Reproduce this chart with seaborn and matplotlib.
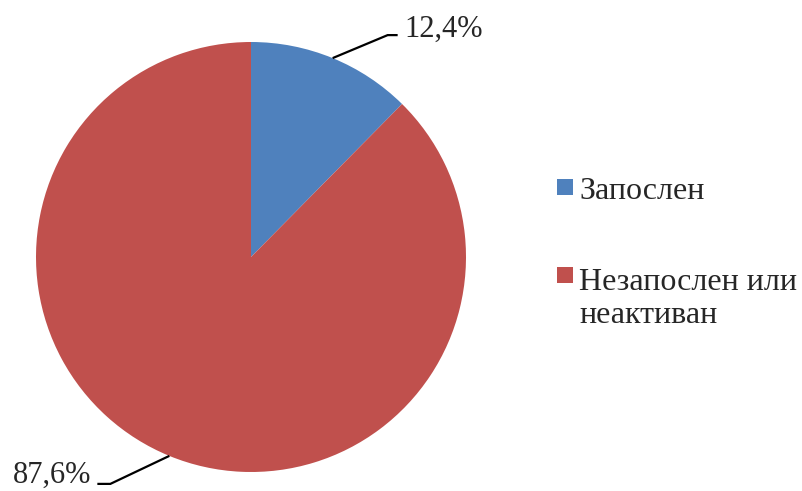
import numpy as np
import matplotlib
matplotlib.use("Agg")
import matplotlib.pyplot as plt
import seaborn as sns
from matplotlib.patches import Rectangle

categories = ["Запослен", "Незапослен или\nнеактиван"]
values = [12.4, 87.6]
value_labels = ["12,4%", "87,6%"]
colors = ["#4F81BD", "#C0504D"]

sns.set_style("white")
plt.rcParams["font.family"] = ["Liberation Serif", "DejaVu Serif"]

W, H = 803, 491
fig = plt.figure(figsize=(W / 100, H / 100), dpi=100)
ax = fig.add_axes([0, 0, 1, 1])

def py(y):
    return H - y

cx, cy, R = 251, py(257), 215
wedges, _ = ax.pie(values, colors=colors, startangle=90, counterclock=False,
                   center=(cx, cy), radius=R, wedgeprops=dict(linewidth=0))
ax.set_xlim(0, W)
ax.set_ylim(0, H)
ax.set_aspect("auto")
ax.axis("off")

# leader lines and value labels
elbows = [((55, 23), (10, 0)), ((-59, -28), (-13, 0))]
fs_lab = 22
for w, lab, (d1, d2) in zip(wedges, value_labels, elbows):
    mid = np.deg2rad((w.theta1 + w.theta2) / 2)
    x0, y0 = cx + R * np.cos(mid), cy + R * np.sin(mid)
    x1, y1 = x0 + d1[0], y0 + d1[1]
    x2, y2 = x1 + d2[0], y1 + d2[1]
    ax.plot([x0, x1, x2], [y0, y1, y2], color="black", lw=1.6,
            solid_capstyle="butt", solid_joinstyle="miter")
    if d2[0] > 0:
        ax.text(x2 + 7, y2 - 2, lab, ha="left", va="baseline", fontsize=fs_lab)
    else:
        ax.text(x2 - 6, y2 + 1, lab, ha="right", va="baseline", fontsize=fs_lab)

# legend (square aligned with first line; baseline given for last line)
fs_leg = 23
sq_y = [195, 283]
last_base = [199, 323]
for cat, col, ys, yb in zip(categories, colors, sq_y, last_base):
    ax.add_patch(Rectangle((557, py(ys)), 16, 16, facecolor=col, edgecolor="none"))
    ax.text(579, py(yb), cat, ha="left", va="baseline", fontsize=fs_leg, linespacing=1.2)

fig.savefig("out.png", dpi=100)
